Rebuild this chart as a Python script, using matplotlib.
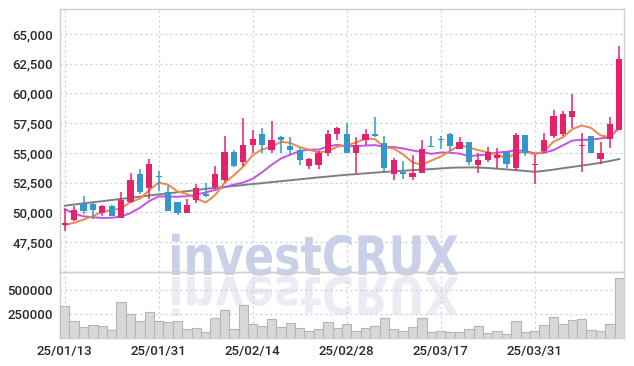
import numpy as np
import matplotlib
matplotlib.use('Agg')
import matplotlib.pyplot as plt
from matplotlib.textpath import TextPath
from matplotlib.patches import PathPatch
from matplotlib.font_manager import FontProperties
from matplotlib import transforms

# Data (60 trading days)
opens = [48950, 49400, 50690, 50740, 49930, 50575, 49510, 50855, 53210, 52030,
         53080, 51700, 50855, 49930, 51020, 51590, 52150, 52770, 55090, 54280,
         55650, 56600, 55230, 56350, 55600, 55260, 53890, 54000, 55040, 56600,
         56630, 54980, 56130, 56630, 55850, 53270, 53410, 52960, 53330, 55560,
         56130, 56630, 55340, 55900, 54000, 54400, 54550, 55080, 53730, 56480,
         53960, 55160, 56420, 56620, 58010, 55560, 56420, 54520, 56210, 56920]
highs = [50300, 50520, 51415, 50800, 50660, 50630, 51720, 53290, 53660, 54525,
         53460, 52200, 50900, 51130, 52420, 52490, 53940, 56460, 55230, 57950,
         56970, 57110, 57700, 56420, 56320, 55430, 54590, 55150, 56970, 57160,
         57530, 56350, 57020, 58030, 56410, 54590, 54310, 54860, 56070, 56460,
         56460, 56690, 56350, 55900, 55000, 55530, 55440, 55080, 56700, 56480,
         54800, 56700, 58600, 58570, 59920, 56700, 56420, 55900, 58030, 63990]
lows = [48450, 49260, 49900, 49450, 49680, 49680, 49510, 50800, 51555, 51130,
        51780, 50100, 49790, 49930, 50800, 51300, 51980, 52540, 53800, 53890,
        55010, 55010, 55010, 55010, 54810, 54030, 53690, 53660, 54780, 56130,
        54980, 53330, 55710, 56350, 53470, 52710, 52850, 52750, 53330, 55520,
        55340, 55150, 55340, 54030, 53330, 54260, 53760, 53760, 53480, 54740,
        52360, 55020, 56280, 56420, 57110, 53400, 55020, 54100, 55420, 56920]
closes = [49150, 50240, 50155, 50210, 50575, 49735, 51080, 52760, 51700, 54050,
          53000, 50155, 49960, 50660, 52060, 51365, 53270, 55090, 53890, 55710,
          56180, 55650, 56100, 56070, 55230, 54450, 54500, 55010, 56600, 57110,
          54980, 55710, 56630, 56410, 53720, 54390, 53240, 53330, 55340, 55520,
          56080, 55570, 55900, 54220, 54450, 55100, 54830, 54040, 56480, 55020,
          54100, 56060, 58130, 58240, 58490, 55650, 55020, 55020, 57470, 62870]
volumes = [333000, 177000, 111000, 135000, 125000, 80000, 372000, 250000, 177000, 271000,
           177000, 167000, 177000, 90000, 104000, 60000, 205000, 288000, 90000, 340000,
           142000, 122000, 194000, 111000, 153000, 101000, 69000, 90000, 163000, 101000,
           142000, 69000, 101000, 125000, 205000, 90000, 69000, 111000, 205000, 59000,
           69000, 59000, 59000, 90000, 125000, 50000, 71000, 42000, 174000, 62000,
           73000, 135000, 215000, 146000, 187000, 198000, 83000, 73000, 146000, 625000]
ma5 = [48950, 49130, 49400, 49700, 50066, 50183, 50351, 50872, 51170, 51865,
       52518, 52333, 51773, 51565, 51167, 50840, 51463, 52489, 53135, 53865,
       54828, 55304, 55506, 55942, 55846, 55500, 55270, 55052, 55158, 55534,
       55640, 55882, 56206, 56168, 55490, 55372, 54878, 54218, 54004, 54364,
       54702, 55168, 55682, 55458, 55244, 55048, 54900, 54528, 54980, 55094,
       54894, 55140, 55958, 56310, 57004, 57314, 57106, 56484, 56330, 57206]
ma10 = [50290, 49900, 49680, 49600, 49540, 49560, 49650, 49950, 50400, 50966,
        51351, 51342, 51323, 51368, 51516, 51679, 51898, 52131, 52350, 52516,
        52834, 53384, 53998, 54539, 54856, 55164, 55287, 55279, 55550, 55690,
        55570, 55576, 55629, 55663, 55512, 55506, 55380, 55212, 55086, 54927,
        55037, 55023, 54950, 54731, 54804, 54875, 55034, 55105, 55219, 55169,
        54971, 55020, 55243, 55645, 56049, 56104, 56123, 56221, 56320, 57105]
ma_long = [50570, 50670, 50760, 50860, 50950, 51050, 51140, 51240, 51330, 51430,
           51520, 51610, 51700, 51790, 51880, 51990, 52070, 52150, 52230, 52310,
           52390, 52470, 52550, 52630, 52710, 52790, 52870, 52950, 53020, 53100,
           53170, 53230, 53290, 53350, 53410, 53460, 53510, 53560, 53610, 53650,
           53700, 53760, 53780, 53790, 53780, 53740, 53680, 53620, 53560, 53490,
           53420, 53500, 53600, 53720, 53830, 53940, 54050, 54180, 54330, 54490]
tick_idx = [0, 10, 20, 30, 40, 50]
tick_labels = ['25/01/13', '25/01/31', '25/02/14', '25/02/28', '25/03/17', '25/03/31']

UP = '#e6206a'
DOWN = '#3497c9'
GRID = '#c5cadf'
TXT = '#2a2a2a'
plt.rcParams['font.family'] = ['Roboto', 'DejaVu Sans']

W, H = 634, 366
fig = plt.figure(figsize=(W / 100, H / 100), dpi=100)
fig.patch.set_facecolor('white')
ax = fig.add_axes([60 / W, 1 - 272 / H, 564 / W, 263 / H])
axv = fig.add_axes([60 / W, 1 - 338 / H, 564 / W, 66 / H])
axv.set_facecolor('none')

x = np.arange(len(closes))
o = np.array(opens); c = np.array(closes)
up = c >= o
cols = [UP if u else DOWN for u in up]

# watermark with reflection
fp = FontProperties(family='DejaVu Sans', weight='bold')
tp = TextPath((0, 0), 'investCRUX', size=100, prop=fp)
ext = tp.get_extents()
sx = 286 / ext.width
sy = 42 / ext.height
base_y = H - 275
tr = transforms.Affine2D().translate(-ext.x0, 0).scale(sx, sy).translate(172, base_y)
ax.add_patch(PathPatch(tp, transform=tr, facecolor='#c9d0e7', edgecolor='none',
                       clip_on=False, zorder=0.2))
tr2 = transforms.Affine2D().translate(-ext.x0, 0).scale(sx, -sy * 0.95).translate(172, base_y - 2)
ax.add_patch(PathPatch(tp, transform=tr2, facecolor='#ebebf3', edgecolor='none',
                       clip_on=False, zorder=0.2))

# candles
ax.vlines(x, lows, highs, colors=cols, linewidth=1.1, zorder=3)
body_lo = np.minimum(o, c)
body_h = np.maximum(np.abs(c - o), 60)
ax.bar(x, body_h, bottom=body_lo, width=0.68, color=cols, linewidth=0, zorder=4)

ax.plot(x, ma_long, color='#7f7f7f', linewidth=1.4, zorder=2)
ax.plot(x, ma10, color='#c353e8', linewidth=1.4, zorder=2)
ax.plot(x, ma5, color='#f0874a', linewidth=1.4, zorder=2)

ax.set_xlim(-0.5, len(x) - 0.5)
ax.set_ylim(45000, 67100)
ax.set_yticks(np.arange(47500, 65001, 2500))
ax.set_yticklabels([f'{v:,}' for v in range(47500, 65001, 2500)])
ax.set_xticks(tick_idx)
ax.set_xticklabels([])
ax.grid(True, color=GRID, linestyle=(0, (1.5, 2.5)), linewidth=0.9)
ax.set_axisbelow(True)
ax.tick_params(length=0, labelsize=9.5, labelcolor=TXT, pad=5)

# volume
axv.bar(x, volumes, width=1.0, color='#d8d8d8', edgecolor='#b5b5b5', linewidth=0.8, zorder=3)
axv.set_xlim(-0.5, len(x) - 0.5)
axv.set_ylim(0, 687500)
axv.set_yticks([250000, 500000])
axv.set_yticklabels(['250000', '500000'])
axv.set_xticks(tick_idx)
axv.set_xticklabels(tick_labels)
axv.grid(True, color=GRID, linestyle=(0, (1.5, 2.5)), linewidth=0.9)
axv.set_axisbelow(True)
axv.tick_params(length=0, labelsize=9.5, labelcolor=TXT, pad=5)

for a in (ax, axv):
    for s in a.spines.values():
        s.set_color('#d0d0d0')
        s.set_linewidth(1)
    for lbl in a.get_xticklabels() + a.get_yticklabels():
        lbl.set_fontweight('medium')

fig.savefig('out.png', dpi=100)
